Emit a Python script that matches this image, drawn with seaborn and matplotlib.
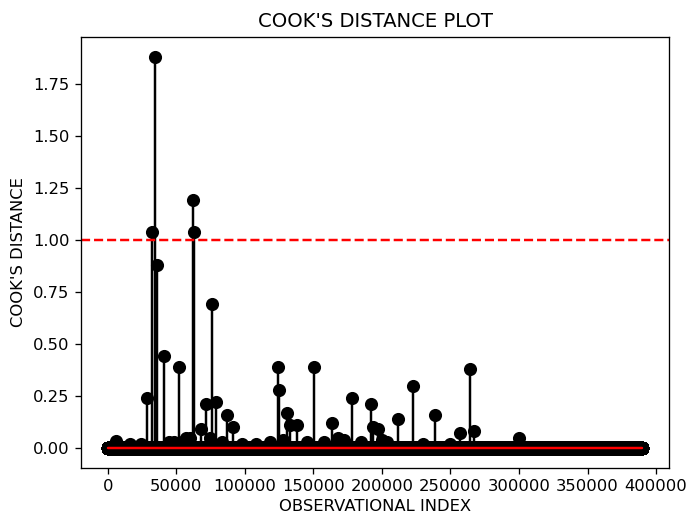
import numpy as np
import matplotlib
matplotlib.use('Agg')
import matplotlib.pyplot as plt
import seaborn as sns

# number of observations (index runs 0 .. n_obs-1)
n_obs = 390000

spike_idx = [5800, 28300, 32400, 34400, 35600, 41200, 52100, 57000, 62400, 62900,
             67800, 71600, 74500, 75800, 79000, 87200, 91600, 124300, 125000, 130800,
             133000, 138000, 150600, 163700, 178400, 192300, 193300, 197000, 212000, 223000,
             239000, 257000, 264000, 267000, 300000]
spike_val = [0.035, 0.24, 1.04, 1.88, 0.88, 0.44, 0.39, 0.05, 1.19, 1.04,
             0.09, 0.21, 0.05, 0.69, 0.22, 0.16, 0.10, 0.39, 0.28, 0.17,
             0.11, 0.11, 0.39, 0.12, 0.24, 0.21, 0.10, 0.09, 0.14, 0.30,
             0.16, 0.07, 0.38, 0.08, 0.05]

# small bumps on the near-zero band
small_idx = [16000, 24000, 45000, 48000, 56000, 60000, 83000, 98000, 108000, 118000,
             128000, 145000, 158000, 168000, 172000, 185000, 200000, 204000, 230000, 250000]
small_val = [0.02, 0.02, 0.03, 0.03, 0.04, 0.05, 0.03, 0.02, 0.02, 0.03,
             0.04, 0.03, 0.03, 0.05, 0.04, 0.03, 0.04, 0.03, 0.02, 0.02]

threshold = 1.0

cooks = np.zeros(n_obs)
cooks[small_idx] = small_val
cooks[spike_idx] = spike_val

sns.set_style('ticks')
plt.rcParams['font.family'] = ['DejaVu Sans']
plt.rcParams['axes.edgecolor'] = 'black'
plt.rcParams['text.color'] = 'black'
plt.rcParams['axes.labelcolor'] = 'black'
plt.rcParams['xtick.color'] = 'black'
plt.rcParams['ytick.color'] = 'black'

fig, ax = plt.subplots(figsize=(687 / 118, 515 / 118), dpi=118)
fig.subplots_adjust(left=0.118, right=0.974, top=0.928, bottom=0.092)

markers, stems, base = ax.stem(np.arange(n_obs), cooks, linefmt='k-', markerfmt='ko', basefmt='r-')
plt.setp(markers, markersize=7)
plt.setp(stems, linewidth=1.5)
plt.setp(base, linewidth=1.5)

ax.axhline(threshold, color='red', linestyle='--', linewidth=1.5)

ax.set_title("COOK'S DISTANCE PLOT", fontsize=12)
ax.set_xlabel('OBSERVATIONAL INDEX', fontsize=10, labelpad=3)
ax.set_ylabel("COOK'S DISTANCE", fontsize=10)
ax.tick_params(labelsize=10)

fig.savefig('out.png', dpi=118)
